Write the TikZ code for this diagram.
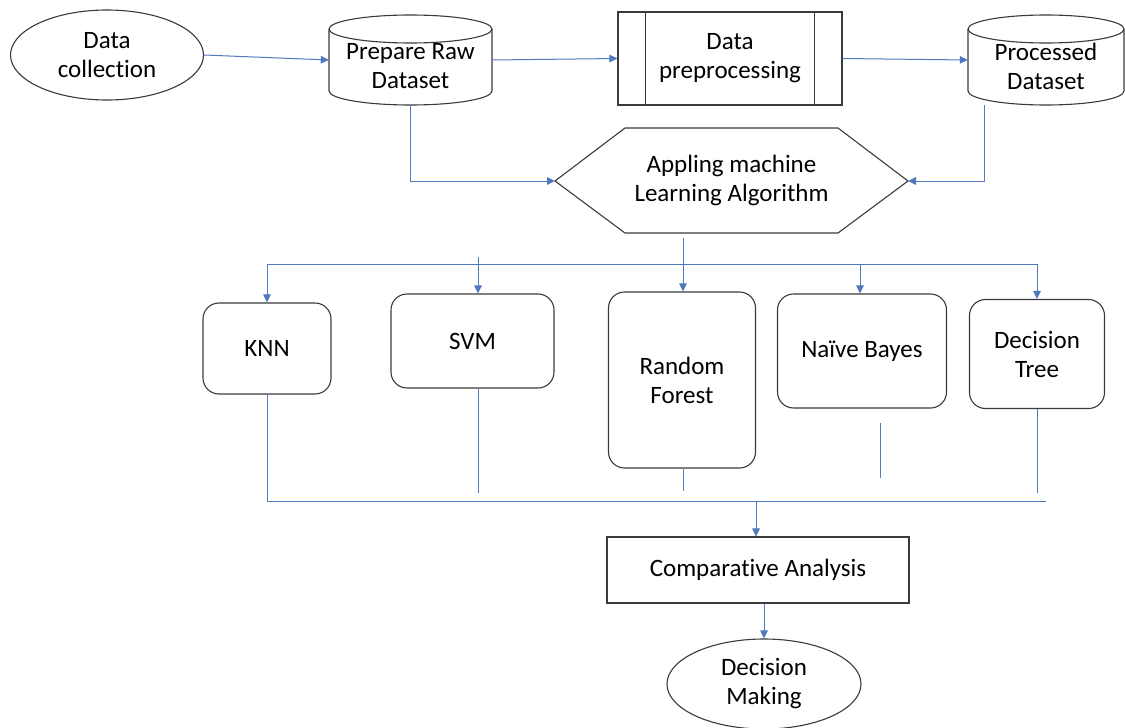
\documentclass[tikz,border=0pt]{standalone}
\usepackage{fontspec}
\setmainfont{Carlito}[Ligatures=CommonOff]
\usetikzlibrary{arrows.meta,shapes.geometric}
\definecolor{linkblue}{HTML}{4F78BE}
\definecolor{edgegray}{HTML}{3A3A3A}

\begin{document}
\begin{tikzpicture}[x=1pt,y=-1pt,
  every node/.style={font=\fontsize{25}{29}\selectfont, align=center, text=black},
  shapeline/.style={draw=edgegray, line width=1.1pt},
  link/.style={draw=linkblue, line width=1pt},
  arr/.style={link, -{Triangle[width=7.5pt,length=8pt]}},
  rbox/.style={shapeline, rounded corners=16pt, inner sep=0pt},
  plain/.style={inner sep=0pt},
]
\useasboundingbox (0,0) rectangle (1125,728);

% --- top row -------------------------------------------------------------
\node[shapeline, ellipse, minimum width=193pt, minimum height=90pt, inner sep=0pt]
  (dc) at (107,55) {Data\\collection};

% raw dataset (cylinder)
\node[plain, minimum width=163pt, minimum height=90pt] (raw) at (410.5,60) {};
\draw[shapeline] (329,29) arc[start angle=180, end angle=-180, x radius=81.5pt, y radius=14pt];
\draw[shapeline] (329,29) -- (329,91) arc[start angle=180, end angle=360, x radius=81.5pt, y radius=14pt] -- (492,29);
\node[plain] (rawtxt) at (410.5,66) {Prepare Raw\\Dataset};

% preprocessing (predefined process box)
\node[shapeline, minimum width=224pt, minimum height=93pt, inner sep=0pt]
  (pre) at (730,58.5) {Data\\preprocessing};
\draw[shapeline] ([xshift=28pt]pre.north west) -- ([xshift=28pt]pre.south west);
\draw[shapeline] ([xshift=-28pt]pre.north east) -- ([xshift=-28pt]pre.south east);

% processed dataset (cylinder)
\node[plain, minimum width=156pt, minimum height=90pt] (proc) at (1046,60) {};
\draw[shapeline] (968,29) arc[start angle=180, end angle=-180, x radius=78pt, y radius=14pt];
\draw[shapeline] (968,29) -- (968,91) arc[start angle=180, end angle=360, x radius=78pt, y radius=14pt] -- (1124,29);
\node[plain] (proctxt) at (1046,66) {Processed\\Dataset};

% --- algorithm hexagon ---------------------------------------------------
\draw[shapeline] (555,181) -- (625,128) -- (838,128) -- (908,181) -- (838,233) -- (625,233) -- cycle;
\node[plain] (hex) at (731.5,180) {Appling machine\\Learning Algorithm};
\coordinate (hexL) at (555,181);
\coordinate (hexR) at (908,181);
\coordinate (hexB) at (683,238);

% --- classifiers -----------------------------------------------------------
\node[rbox, minimum width=128pt, minimum height=91pt] (knn) at (267,348.5) {KNN};
\node[rbox, minimum width=163pt, minimum height=94pt] (svm) at (472.5,341) {SVM};
\node[rbox, minimum width=147pt, minimum height=176pt] (rf) at (682,380) {Random\\Forest};
\node[rbox, minimum width=169pt, minimum height=114pt] (nb) at (862,351) {Na\"ive Bayes};
\node[rbox, minimum width=135pt, minimum height=109pt] (dt) at (1037,354) {Decision\\Tree};

% --- comparison and decision -----------------------------------------------
\node[shapeline, minimum width=302pt, minimum height=66pt, inner sep=0pt]
  (ca) at (758,570) {Comparative Analysis};
\node[shapeline, ellipse, minimum width=194pt, minimum height=90pt, inner sep=0pt]
  (dm) at (764,684) {Decision\\Making};

% --- connectors ------------------------------------------------------------
\draw[arr] (dc.east) -- (raw.west);
\draw[arr] (raw.east) -- (pre.west);
\draw[arr] (pre.east) -- (proc.west);
\draw[arr] (raw.south) |- (hexL);
\draw[arr] ([xshift=-62pt]proc.south) |- (hexR);

% fan-out bus
\coordinate (busL) at (267,264);
\coordinate (busR) at (1037,264);
\coordinate (svmIn) at (478,257);
\coordinate (nbIn) at (860,264);
\draw[link] (busL) -- (busR);
\draw[arr] (hexB) -- (hexB |- rf.north);
\draw[arr] (busL) -- (knn.north);
\draw[arr] (svmIn) -- (svmIn |- svm.north);
\draw[arr] (nbIn) -- (nbIn |- nb.north);
\draw[arr] (busR) -- (dt.north);

% fan-in bus
\coordinate (botL) at (267,501);
\coordinate (botR) at (1046,501);
\coordinate (botM) at (756,501);
\coordinate (svmOut) at (478,493);
\coordinate (rfOut) at (683,491);
\coordinate (dtOut) at (1037,493);
\coordinate (nbA) at (880,423);
\coordinate (nbB) at (880,478);
\draw[link] (knn.south) -- (botL) -- (botR);
\draw[link] (svmOut |- svm.south) -- (svmOut);
\draw[link] (rfOut |- rf.south) -- (rfOut);
\draw[link] (nbA) -- (nbB);
\draw[link] (dt.south) -- (dtOut);
\draw[arr] (botM) -- (botM |- ca.north);
\draw[arr] (dm.north |- ca.south) -- (dm.north);
\end{tikzpicture}
\end{document}
